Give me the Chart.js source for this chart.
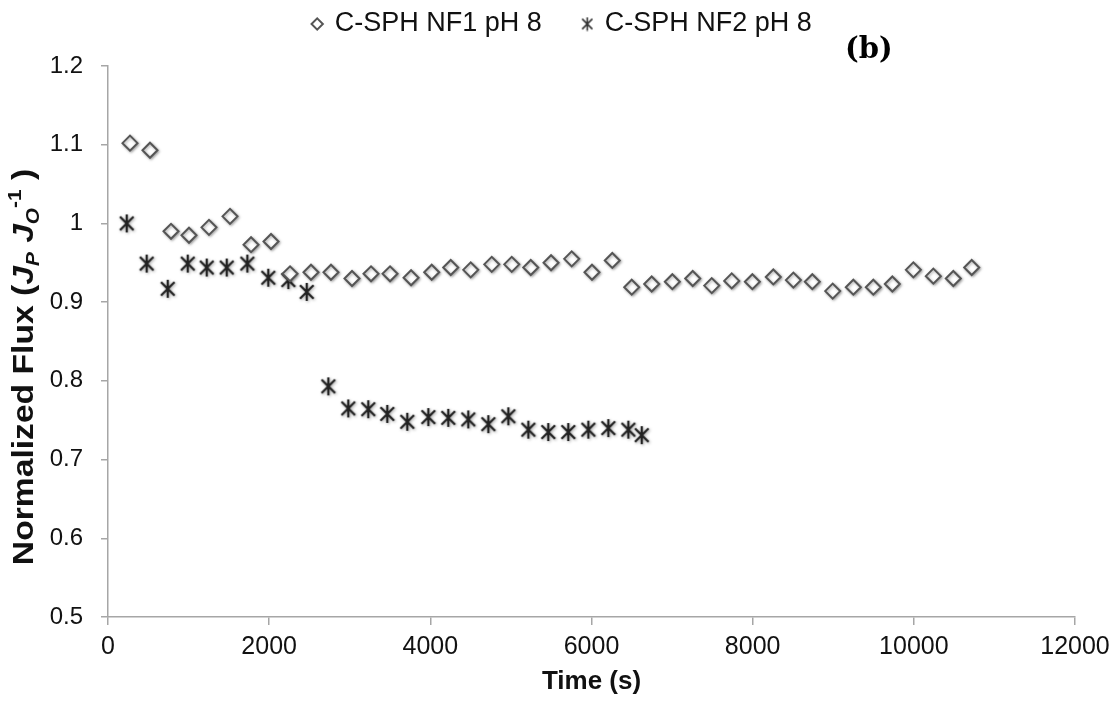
<!DOCTYPE html>
<html>
<head>
<meta charset="utf-8">
<script src="https://cdn.jsdelivr.net/npm/chart.js@4.4.0/dist/chart.umd.min.js"></script>
<style>
  html, body { margin: 0; padding: 0; background: #fff; }
</style>
</head>
<body>
<canvas id="flux-chart" width="1117" height="701"></canvas>
<script>
 // Time (s) and normalized flux values
 var nf1Time = [273, 521, 782, 1005, 1253, 1514, 1775, 2023, 2259, 2519, 2767, 3028, 3264, 3500, 3761, 4017, 4253, 4501, 4762, 5010, 5246, 5498, 5754, 6006, 6258, 6499, 6747, 7003, 7256, 7492, 7740, 7996, 8256, 8505, 8740, 8993, 9249, 9497, 9733, 9994, 10242, 10490, 10718];
 var nf1Flux = [1.102, 1.093, 0.990, 0.985, 0.995, 1.009, 0.973, 0.977, 0.936, 0.938, 0.938, 0.930, 0.936, 0.936, 0.931, 0.938, 0.944, 0.941, 0.948, 0.948, 0.944, 0.950, 0.955, 0.938, 0.953, 0.919, 0.923, 0.926, 0.930, 0.921, 0.927, 0.926, 0.932, 0.928, 0.926, 0.914, 0.919, 0.919, 0.923, 0.941, 0.933, 0.930, 0.944];

 var nf2Time = [232, 480, 741, 989, 1225, 1473, 1729, 1989, 2238, 2466, 2734, 2982, 3230, 3466, 3714, 3975, 4223, 4471, 4720, 4968, 5216, 5464, 5712, 5961, 6209, 6457, 6623];
 var nf2Flux = [1.000, 0.949, 0.917, 0.949, 0.944, 0.944, 0.949, 0.931, 0.928, 0.913, 0.793, 0.765, 0.764, 0.758, 0.748, 0.754, 0.753, 0.751, 0.745, 0.755, 0.738, 0.735, 0.735, 0.738, 0.740, 0.738, 0.731];

 var seriesNames = ['C-SPH NF1 pH 8', 'C-SPH NF2 pH 8'];
 var xLabel = 'Time (s)';
 var panelLabel = '(b)';

 var sans = '"Liberation Sans", Arial, sans-serif';
 var axisGrey = '#a6a6a6';

 // star marker (X with a vertical stroke), like the Excel one
 function makeStar(size, lw, color) {
     var c = document.createElement('canvas');
     c.width = size; c.height = size;
     var g = c.getContext('2d');
     var m = size / 2, a = size * 0.34, v = size * 0.45;
     g.strokeStyle = color;
     g.lineWidth = lw;
     g.beginPath();
     g.moveTo(m - a, m - a); g.lineTo(m + a, m + a);
     g.moveTo(m + a, m - a); g.lineTo(m - a, m + a);
     g.moveTo(m, m - v); g.lineTo(m, m + v);
     g.stroke();
     return c;
 }
 var bigStar = makeStar(20, 2.3, '#222');
 var smallStar = makeStar(15, 1.6, '#333');

 function toPoints(xs, ys) {
     return xs.map(function (x, i) { return { x: x, y: ys[i] }; });
 }

 // y axis title with subscripts / superscript, drawn by hand
 var yTitlePlugin = {
     id: 'yTitle',
     afterDraw: function (chart) {
         var ctx = chart.ctx;
         var F = 29;
         var parts = [
             { t: 'Normalized Flux (', s: 1, f: 'bold', dy: 0 },
             { t: 'J', s: 1, f: 'italic bold', dy: 0 },
             { t: 'P', s: 0.62, f: 'italic bold', dy: 0.22 },
             { t: ' J', s: 1, f: 'italic bold', dy: 0 },
             { t: 'O', s: 0.62, f: 'italic bold', dy: 0.22 },
             { t: '-1', s: 0.62, f: 'bold', dy: -0.42 },
             { t: ' )', s: 1, f: 'bold', dy: 0 }
         ];
         ctx.save();
         var total = 0;
         parts.forEach(function (p) {
             ctx.font = p.f + ' ' + (F * p.s) + 'px ' + sans;
             p.w = ctx.measureText(p.t).width;
             total += p.w;
         });
         ctx.translate(33, 367);
         ctx.rotate(-Math.PI / 2);
         ctx.scale(1.16, 1);
         ctx.fillStyle = '#111';
         ctx.textBaseline = 'alphabetic';
         var x = -total / 2;
         parts.forEach(function (p) {
             ctx.font = p.f + ' ' + (F * p.s) + 'px ' + sans;
             ctx.fillText(p.t, x, p.dy * F);
             x += p.w;
         });
         ctx.restore();

         ctx.save();
         ctx.font = 'bold 29px "DejaVu Serif", serif';
         ctx.fillStyle = '#000';
         ctx.textBaseline = 'alphabetic';
         ctx.fillText(panelLabel, 845, 58);
         ctx.restore();
     }
 };

 // legend box size / position
 var legendPlugin = {
     id: 'legendPlace',
     beforeInit: function (chart) {
         var fit = chart.legend.fit;
         chart.legend.fit = function () {
             fit.call(this);
             this.height = 66;
         };
     },
     afterLayout: function (chart) {
         var lg = chart.legend;
         lg.top = 10.5 - 41.5;
         lg.left += 25;
         lg.right += 25;
     }
 };

 var markerShadow = {
     id: 'markerShadow',
     beforeDatasetsDraw: function (chart) {
         var ctx = chart.ctx;
         ctx.save();
         ctx.shadowColor = 'rgba(0,0,0,0.35)';
         ctx.shadowBlur = 3;
         ctx.shadowOffsetX = 1;
         ctx.shadowOffsetY = 1;
     },
     afterDatasetsDraw: function (chart) {
         chart.ctx.restore();
     }
 };

 var ctx = document.getElementById('flux-chart').getContext('2d');
 var myChart = new Chart(ctx, {
     type: 'scatter',
     data: {
         datasets: [{
             label: seriesNames[0],
             data: toPoints(nf1Time, nf1Flux),
             pointStyle: 'rectRot',
             pointRadius: 7.5,
             borderColor: '#555',
             backgroundColor: '#fff',
             borderWidth: 2
         }, {
             label: seriesNames[1],
             data: toPoints(nf2Time, nf2Flux),
             pointStyle: bigStar,
             pointRadius: 8,
             borderColor: '#222',
             backgroundColor: '#222',
             borderWidth: 2
         }]
     },
     options: {
         responsive: false,
         animation: false,
         layout: { padding: { left: 0, right: 42, top: 0, bottom: 0 } },
         plugins: {
             tooltip: { enabled: false },
             legend: {
                 position: 'top',
                 labels: {
                     usePointStyle: true,
                     boxWidth: 8,
                     boxHeight: 8,
                     padding: 41.5,
                     color: '#111',
                     font: { size: 27, family: sans },
                     generateLabels: function (chart) {
                         var items = Chart.defaults.plugins.legend.labels.generateLabels(chart);
                         items[1].pointStyle = smallStar;
                         return items;
                     }
                 }
             }
         },
         scales: {
             x: {
                 type: 'linear',
                 min: 0,
                 max: 12000,
                 ticks: {
                     stepSize: 2000,
                     maxRotation: 0,
                     padding: 7,
                     color: '#111',
                     font: { size: 25, family: sans },
                     callback: function (v) { return String(v); }
                 },
                 grid: { drawOnChartArea: false, tickLength: 8, color: axisGrey, lineWidth: 1.5 },
                 border: { color: axisGrey, width: 1.5 },
                 title: {
                     display: true,
                     text: xLabel,
                     color: '#111',
                     font: { size: 26, weight: 'bold', family: sans },
                     padding: { top: 4, bottom: 4 }
                 },
                 afterFit: function (scale) { scale.height = 84; }
             },
             y: {
                 min: 0.5,
                 max: 1.2,
                 ticks: {
                     stepSize: 0.1,
                     padding: 18,
                     color: '#111',
                     font: { size: 24, family: sans },
                     callback: function (v) { return String(+v.toFixed(1)); }
                 },
                 grid: { drawOnChartArea: false, tickLength: 7, color: axisGrey, lineWidth: 1.5 },
                 border: { color: axisGrey, width: 1.5 },
                 afterFit: function (scale) { scale.width = 108; }
             }
         }
     },
     plugins: [legendPlugin, markerShadow, yTitlePlugin]
 });
</script>
</body>
</html>
